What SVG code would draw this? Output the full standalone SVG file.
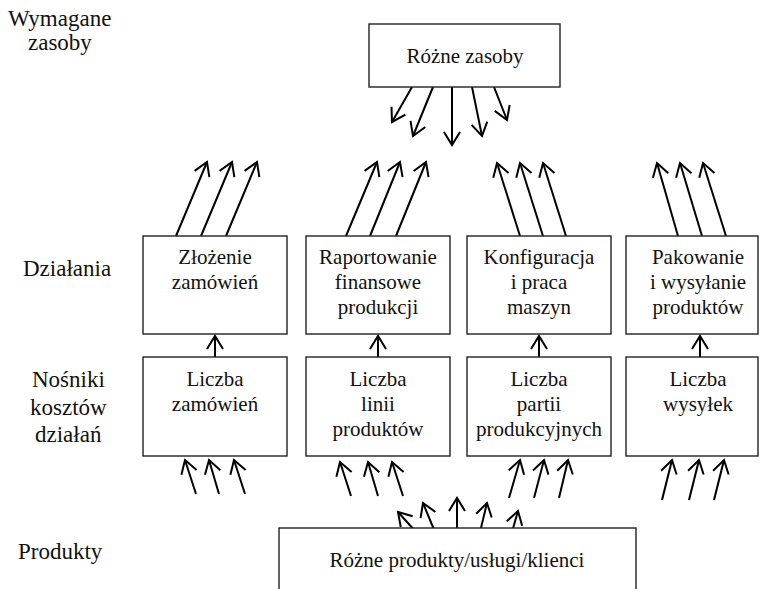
<svg xmlns="http://www.w3.org/2000/svg" width="762" height="589" viewBox="0 0 762 589">
<style>
.box{fill:#fff;stroke:#222;stroke-width:1.4}
text{font-family:'Liberation Serif','Times New Roman',Times,'Nimbus Roman','Nimbus Roman No9 L',FreeSerif,'Noto Serif','DejaVu Serif',Tinos,Georgia,serif;fill:#111}
.t{font-size:21px;text-anchor:middle}
.l{font-size:23px}
.a{stroke:#000;stroke-width:2;fill:none;marker-end:url(#ah)}
</style>
<defs>
<marker id="ah" markerUnits="userSpaceOnUse" viewBox="-16 -10 20 20" refX="0" refY="0" markerWidth="20" markerHeight="20" orient="auto">
<path d="M-13,-8 L0,0 L-13,8" fill="none" stroke="#000" stroke-width="2"/>
</marker>
</defs>
<rect width="762" height="589" fill="#fff"/>
<g id="labels">
<text class="l" x="8" y="26">Wymagane</text>
<text class="l" x="28" y="50">zasoby</text>
<text class="l" x="23" y="276">Działania</text>
<text class="l" x="32" y="387">Nośniki</text>
<text class="l" x="30" y="415">kosztów</text>
<text class="l" x="35" y="442">działań</text>
<text class="l" x="18" y="559">Produkty</text>
</g>
<g id="connectors">
<line class="a" x1="412" y1="87" x2="392" y2="122"/>
<line class="a" x1="433" y1="87" x2="413" y2="136"/>
<line class="a" x1="452" y1="87" x2="452" y2="145"/>
<line class="a" x1="472" y1="87" x2="482" y2="136"/>
<line class="a" x1="494" y1="87" x2="507" y2="120"/>
<line class="a" x1="176" y1="236" x2="207" y2="162"/>
<line class="a" x1="201" y1="236" x2="232" y2="162"/>
<line class="a" x1="226" y1="236" x2="257" y2="162"/>
<line class="a" x1="346" y1="236" x2="377" y2="162"/>
<line class="a" x1="370" y1="236" x2="400" y2="162"/>
<line class="a" x1="396" y1="236" x2="426" y2="162"/>
<line class="a" x1="520" y1="236" x2="497" y2="163"/>
<line class="a" x1="543" y1="236" x2="520" y2="163"/>
<line class="a" x1="566" y1="236" x2="543" y2="163"/>
<line class="a" x1="678" y1="236" x2="657" y2="163"/>
<line class="a" x1="702" y1="236" x2="680" y2="163"/>
<line class="a" x1="726" y1="236" x2="703" y2="163"/>
<line class="a" x1="215" y1="357" x2="215" y2="336"/>
<line class="a" x1="378" y1="357" x2="378" y2="336"/>
<line class="a" x1="539" y1="357" x2="539" y2="336"/>
<line class="a" x1="700" y1="357" x2="700" y2="336"/>
<line class="a" x1="196" y1="494" x2="185" y2="460"/>
<line class="a" x1="219" y1="494" x2="209" y2="460"/>
<line class="a" x1="245" y1="494" x2="234" y2="460"/>
<line class="a" x1="351" y1="496" x2="340" y2="462"/>
<line class="a" x1="378" y1="496" x2="368" y2="462"/>
<line class="a" x1="403" y1="496" x2="392" y2="462"/>
<line class="a" x1="509" y1="498" x2="520" y2="460"/>
<line class="a" x1="534" y1="498" x2="544" y2="460"/>
<line class="a" x1="559" y1="498" x2="568" y2="460"/>
<line class="a" x1="662" y1="500" x2="672" y2="460"/>
<line class="a" x1="689" y1="500" x2="699" y2="460"/>
<line class="a" x1="714" y1="500" x2="724" y2="460"/>
<line class="a" x1="416" y1="532" x2="398" y2="512"/>
<line class="a" x1="435" y1="532" x2="423" y2="503"/>
<line class="a" x1="457" y1="532" x2="457" y2="498"/>
<line class="a" x1="480" y1="532" x2="487" y2="503"/>
<line class="a" x1="512" y1="532" x2="518" y2="511"/>
</g>
<g id="zasoby">
<rect class="box" x="369" y="24" width="191" height="63"/>
<text class="t" x="465" y="63">Różne zasoby</text>
</g>
<g id="dz1">
<rect class="box" x="143" y="236" width="144" height="98"/>
<text class="t" x="215" y="264">Złożenie</text>
<text class="t" x="215" y="289">zamówień</text>
</g>
<g id="dz2">
<rect class="box" x="306" y="236" width="144" height="98"/>
<text class="t" x="378" y="264">Raportowanie</text>
<text class="t" x="378" y="289">finansowe</text>
<text class="t" x="378" y="314">produkcji</text>
</g>
<g id="dz3">
<rect class="box" x="467" y="236" width="144" height="98"/>
<text class="t" x="539" y="264">Konfiguracja</text>
<text class="t" x="539" y="289">i praca</text>
<text class="t" x="539" y="314">maszyn</text>
</g>
<g id="dz4">
<rect class="box" x="626" y="236" width="132" height="98"/>
<text class="t" x="698" y="264">Pakowanie</text>
<text class="t" x="698" y="289">i wysyłanie</text>
<text class="t" x="698" y="314">produktów</text>
</g>
<g id="n1">
<rect class="box" x="143" y="357" width="144" height="99"/>
<text class="t" x="215" y="386">Liczba</text>
<text class="t" x="215" y="411">zamówień</text>
</g>
<g id="n2">
<rect class="box" x="306" y="357" width="144" height="99"/>
<text class="t" x="378" y="386">Liczba</text>
<text class="t" x="378" y="411">linii</text>
<text class="t" x="378" y="436">produktów</text>
</g>
<g id="n3">
<rect class="box" x="467" y="357" width="144" height="99"/>
<text class="t" x="539" y="386">Liczba</text>
<text class="t" x="539" y="411">partii</text>
<text class="t" x="539" y="436">produkcyjnych</text>
</g>
<g id="n4">
<rect class="box" x="626" y="357" width="132" height="99"/>
<text class="t" x="698" y="386">Liczba</text>
<text class="t" x="698" y="411">wysyłek</text>
</g>
<g id="produkty">
<rect class="box" x="279" y="528" width="357" height="80"/>
<text class="t" x="457" y="567">Różne produkty/usługi/klienci</text>
</g>
</svg>
